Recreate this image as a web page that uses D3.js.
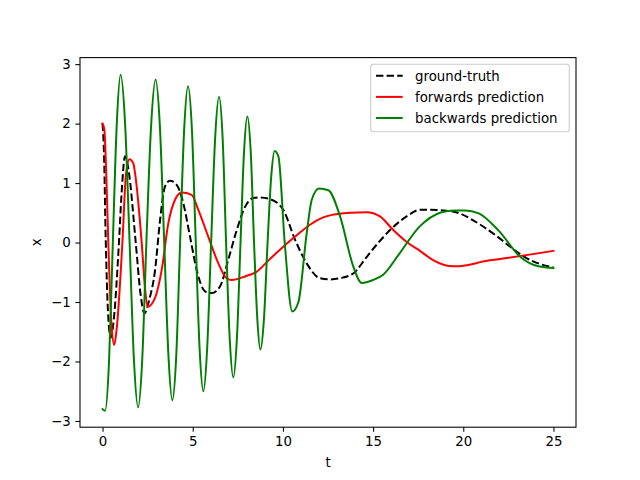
<!DOCTYPE html>
<html>
<head>
<meta charset="utf-8">
<script src="https://cdn.jsdelivr.net/npm/d3@7/dist/d3.min.js"></script>
<style>
  html, body { margin: 0; padding: 0; background: #fff; }
  svg { display: block; }
  text { font-family: "DejaVu Sans", sans-serif; }
</style>
</head>
<body>
<svg id="chart" width="640" height="480"></svg>
<script>
// ---- data ----
const xTicks = [0, 5, 10, 15, 20, 25];
const yTicks = [-3, -2, -1, 0, 1, 2, 3];

const tGround = [0, 0.08, 0.18, 0.3, 0.45, 0.62, 0.91, 1.05, 1.25, 1.45, 1.84, 2.1, 2.32, 2.6, 2.91, 3.19, 3.46, 3.74, 4.11, 4.48, 4.85, 5.22, 5.68, 6.05, 6.51, 6.97, 7.44, 7.9, 8.36, 8.7, 9.28, 10.02, 10.67, 11.32, 12.05, 12.6, 13.16, 13.9, 14.65, 15.3, 15.94, 16.86, 17.6, 18.2, 18.9, 19.8, 20.4, 21.1, 21.8, 22.6, 23.5, 24.25, 25];
const xGround = [2.0, 1.5, 0.0, -1.15, -1.6, -1.3, 0.0, 0.8, 1.45, 1.2, 0.0, -0.85, -1.19, -0.95, -0.47, 0.38, 0.94, 1.04, 0.97, 0.66, 0.10, -0.46, -0.82, -0.85, -0.74, -0.29, 0.21, 0.6, 0.75, 0.76, 0.73, 0.55, 0.05, -0.35, -0.60, -0.62, -0.60, -0.52, -0.24, 0.0, 0.21, 0.44, 0.55, 0.55, 0.54, 0.49, 0.40, 0.27, 0.12, -0.07, -0.26, -0.36, -0.42];

const tForward = [0, 0.1, 0.2, 0.32, 0.5, 0.65, 0.8, 1.1, 1.3, 1.49, 1.71, 1.8, 2.17, 2.35, 2.5, 2.91, 3.28, 3.65, 4.02, 4.39, 4.94, 5.31, 5.86, 6.42, 6.88, 7.16, 7.9, 8.55, 9.2, 10.02, 10.8, 11.5, 12.2, 12.8, 13.7, 14.65, 15.38, 16.12, 16.9, 17.6, 18.3, 19.45, 20.2, 21.1, 22.2, 23.3, 25];
const xForward = [2.0, 1.9, 1.2, 0.0, -1.4, -1.72, -1.4, 0.0, 1.15, 1.40, 1.33, 1.17, 0.0, -0.75, -1.08, -0.93, -0.46, 0.33, 0.72, 0.84, 0.80, 0.55, 0.10, -0.35, -0.60, -0.63, -0.57, -0.49, -0.30, -0.07, 0.13, 0.30, 0.42, 0.47, 0.50, 0.51, 0.44, 0.21, 0.0, -0.14, -0.29, -0.40, -0.38, -0.32, -0.27, -0.22, -0.14];

const tBackward = [0, 0.14, 0.36, 0.57, 0.79, 1.0, 1.25, 1.5, 1.74, 1.97, 2.2, 2.43, 2.69, 2.94, 3.18, 3.42, 3.65, 3.87, 4.09, 4.3, 4.52, 4.74, 4.96, 5.17, 5.38, 5.59, 5.8, 6.02, 6.24, 6.46, 6.66, 6.85, 7.05, 7.25, 7.45, 7.65, 7.84, 8.03, 8.22, 8.4, 8.58, 8.75, 8.95, 9.15, 9.35, 9.54, 9.75, 10.1, 10.52, 10.86, 11.32, 11.6, 12.0, 12.52, 13.17, 13.9, 14.37, 15.0, 15.56, 16.45, 17.55, 18.8, 19.5, 20.1, 20.86, 21.96, 23.2, 24.17, 25];
const xBackward = [-2.80, -2.83, -2.0, 0.0, 2.0, 2.82, 2.0, 0.0, -1.97, -2.77, -1.97, 0.0, 1.95, 2.74, 1.95, 0.0, -1.88, -2.65, -1.88, 0.0, 1.87, 2.63, 1.87, 0.0, -1.78, -2.50, -1.78, 0.0, 1.74, 2.45, 1.74, 0.0, -1.61, -2.27, -1.61, 0.0, 1.5, 2.12, 1.5, 0.0, -1.28, -1.80, -1.28, 0.0, 1.1, 1.54, 1.45, 0.0, -1.16, -1.0, 0.16, 0.72, 0.91, 0.88, 0.44, -0.40, -0.68, -0.63, -0.54, -0.19, 0.26, 0.51, 0.54, 0.54, 0.49, 0.2, -0.25, -0.40, -0.43];

const seriesNames = ["ground-truth", "forwards prediction", "backwards prediction"];
const seriesColors = ["black", "red", "green"];

// ---- layout ----
const svg = d3.select("#chart");
const L = 80, T = 57.6, W = 496, H = 369.6;
const x = d3.scaleLinear().domain([-1.25, 26.25]).range([L, L + W]);
const y = d3.scaleLinear().domain([-3.105, 3.11]).range([T + H, T]);

const series = [
  { t: tGround, v: xGround, dash: "7.4,3.2" },
  { t: tForward, v: xForward, dash: null },
  { t: tBackward, v: xBackward, dash: null }
];

svg.append("defs").append("clipPath").attr("id", "clip")
  .append("rect").attr("x", L).attr("y", T).attr("width", W).attr("height", H);

const line = d3.line().x(d => x(d[0])).y(d => y(d[1])).curve(d3.curveMonotoneX);
const g = svg.append("g").attr("clip-path", "url(#clip)");
series.forEach((s, i) => {
  g.append("path")
    .datum(s.t.map((t, j) => [t, s.v[j]]))
    .attr("d", line)
    .attr("fill", "none")
    .attr("stroke", seriesColors[i])
    .attr("stroke-width", 2)
    .attr("stroke-dasharray", s.dash)
    .attr("stroke-linejoin", "round")
    .attr("stroke-linecap", s.dash ? "butt" : "square");
});

// axes
const fmt = d => (d < 0 ? "\u2212" + Math.abs(d) : "" + d);
const xAxis = d3.axisBottom(x).tickValues(xTicks).tickFormat(fmt).tickSize(4.67).tickPadding(4.67);
const yAxis = d3.axisLeft(y).tickValues(yTicks).tickFormat(fmt).tickSize(4.67).tickPadding(4.67);

const gx = svg.append("g").attr("transform", `translate(0,${T + H})`).call(xAxis);
const gy = svg.append("g").attr("transform", `translate(${L},0)`).call(yAxis);
[gx, gy].forEach(a => {
  a.select(".domain").remove();
  a.selectAll(".tick line").attr("stroke", "black").attr("stroke-width", 1.07);
  a.selectAll(".tick text").attr("fill", "black").style("font-size", "13.33px").style("font-family", "DejaVu Sans");
});

// spines
svg.append("rect").attr("x", L).attr("y", T).attr("width", W).attr("height", H)
  .attr("fill", "none").attr("stroke", "black").attr("stroke-width", 1.07);

// axis labels
svg.append("text").attr("x", L + W / 2).attr("y", 467).attr("text-anchor", "middle")
  .style("font-size", "13.33px").text("t");
svg.append("text").attr("transform", `translate(41,${T + H / 2}) rotate(-90)`).attr("text-anchor", "middle")
  .style("font-size", "13.33px").text("x");

// legend
const lg = svg.append("g");
lg.append("rect").attr("x", 370.7).attr("y", 64.3).attr("width", 198.6).attr("height", 67.5)
  .attr("rx", 2.8).attr("fill", "white").attr("fill-opacity", 0.8)
  .attr("stroke", "#cccccc").attr("stroke-width", 1.07);
const rowY = [75.8, 96.9, 118.0];
seriesNames.forEach((name, i) => {
  lg.append("line").attr("x1", 376).attr("x2", 402.7).attr("y1", rowY[i]).attr("y2", rowY[i])
    .attr("stroke", seriesColors[i]).attr("stroke-width", 2)
    .attr("stroke-dasharray", series[i].dash);
  lg.append("text").attr("x", 415).attr("y", rowY[i] + 4.8)
    .style("font-size", "13.33px").attr("fill", "black").text(name);
});
</script>
</body>
</html>
